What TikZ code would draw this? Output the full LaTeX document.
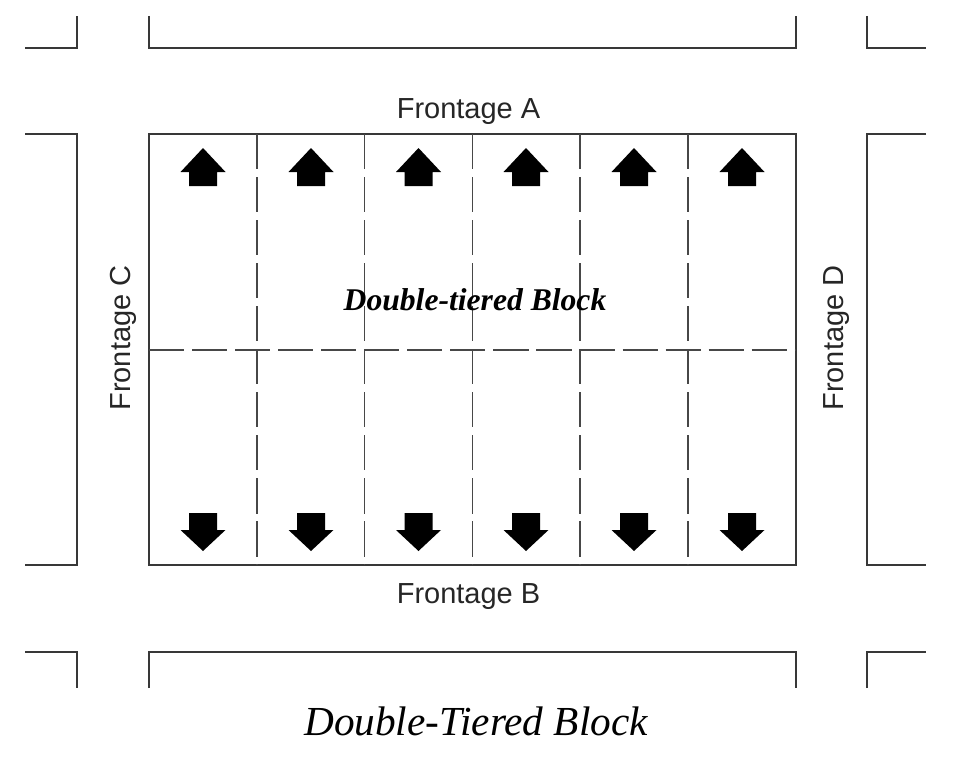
\documentclass[tikz,border=0pt]{standalone}
\usepackage{fontspec}
\setmainfont{Liberation Serif}
\setsansfont{Liberation Sans}
\usepackage{tikz}

\begin{document}
\begin{tikzpicture}
 [x=0.02cm, y=-0.02cm,
  street line/.style={line width=1.5pt, draw=black!78, line join=miter},
  lot line/.style={line width=0.9pt, draw=black!72, dash pattern=on 20pt off 4.5pt},
  lot arrow/.style={fill=black},
  frontage label/.style={anchor=base, font=\sffamily\fontsize{16.5}{18}\selectfont, text=black!85},
  block label/.style={anchor=base, font=\bfseries\itshape\fontsize{18}{20}\selectfont},
  caption label/.style={anchor=base, font=\itshape\fontsize{23.5}{26}\selectfont}]

\useasboundingbox (0,0) rectangle (966,757);

% street blocks round the double-tiered block
\draw[street line] (25,48) -- (77,48) -- (77,16);
\draw[street line] (149,16) -- (149,48) -- (796,48) -- (796,16);
\draw[street line] (867,16) -- (867,48) -- (926,48);

\draw[street line] (25,134) -- (77,134) -- (77,565) -- (25,565);
\draw[street line] (149,134) rectangle (796,565);
\draw[street line] (926,134) -- (867,134) -- (867,565) -- (926,565);

\draw[street line] (25,652) -- (77,652) -- (77,688);
\draw[street line] (149,688) -- (149,652) -- (796,652) -- (796,688);
\draw[street line] (867,688) -- (867,652) -- (926,652);

% lot lines
\foreach \lx in {257,364.5,472.5,580,688}
  \draw[lot line] (\lx,134) -- (\lx,565);
\draw[lot line] (149,350) -- (796,350);

% lots facing A and B
\foreach \cx in {203,311,418.5,526,634,742} {
  \fill[lot arrow] (\cx-22.5,172) -- (\cx,148) -- (\cx+22.5,172) -- (\cx+14,172)
    -- (\cx+14,186) -- (\cx-14,186) -- (\cx-14,172) -- cycle;
  \fill[lot arrow] (\cx-14,513) -- (\cx+14,513) -- (\cx+14,530) -- (\cx+22.5,530)
    -- (\cx,551) -- (\cx-22.5,530) -- (\cx-14,530) -- cycle;
}

\node[frontage label] (frontA) at (468.5,118) {Frontage A};
\node[frontage label] (frontB) at (468.5,603) {Frontage B};
\node[frontage label, rotate=90] (frontC) at (130,338) {Frontage C};
\node[frontage label, rotate=90] (frontD) at (843,338) {Frontage D};

\node[block label] (blocktext) at (475,310) {Double-tiered Block};
\node[caption label] (caption) at (476,735) {Double-Tiered Block};

\end{tikzpicture}
\end{document}
